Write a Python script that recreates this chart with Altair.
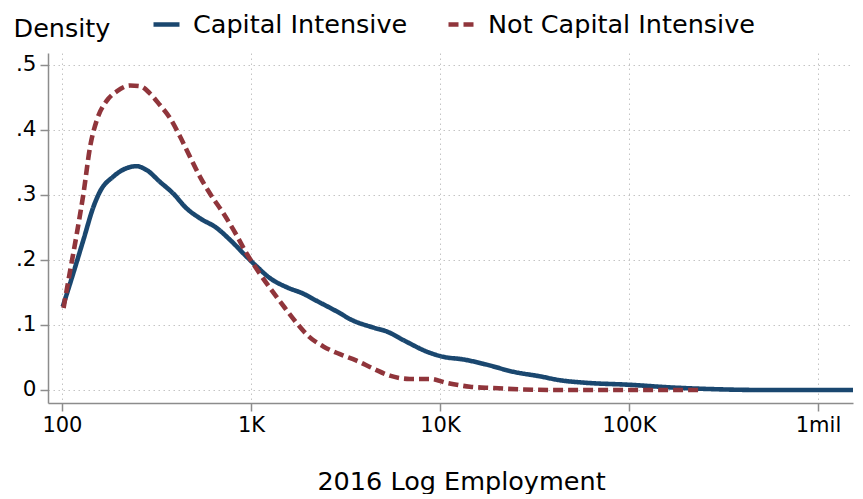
import altair as alt
import pandas as pd

series_names = ["Capital Intensive", "Not Capital Intensive"]

cap_emp = [101, 115, 130, 147, 159, 187, 220, 248, 281, 330, 388, 457, 537, 659, 774, 948,
           1072, 1259, 1545, 1892, 2228, 2958, 3342, 4436, 5224, 6668, 8510, 10400, 13280,
           17650, 24430, 33800, 43150, 59700, 101000, 164800, 303000, 493000, 1667000]
cap_den = [0.128, 0.18, 0.231, 0.282, 0.305, 0.328, 0.341, 0.344, 0.338, 0.320, 0.302, 0.279,
           0.264, 0.249, 0.231, 0.205, 0.19, 0.172, 0.158, 0.148, 0.137, 0.118, 0.109, 0.096,
           0.090, 0.074, 0.059, 0.051, 0.047, 0.039, 0.028, 0.021, 0.015, 0.011, 0.008, 0.004,
           0.001, 0.0, 0.0]

not_emp = [102, 110, 120, 130, 141, 153, 172, 195, 229, 259, 292, 330, 373, 421, 475, 537,
           607, 713, 839, 948, 1072, 1312, 1514, 1746, 2011, 2414, 2958, 3623, 4436, 5432,
           6934, 8851, 10840, 14420, 19150, 26500, 43150, 237700]
not_den = [0.126, 0.18, 0.241, 0.302, 0.374, 0.415, 0.444, 0.459, 0.468, 0.467, 0.456, 0.438,
           0.418, 0.39, 0.359, 0.328, 0.302, 0.272, 0.238, 0.21, 0.186, 0.15, 0.126, 0.103,
           0.083, 0.067, 0.055, 0.045, 0.033, 0.022, 0.017, 0.017, 0.011, 0.005, 0.003, 0.001,
           0.0, 0.0]

x_ticks = [100, 1000, 10000, 100000, 1000000]
x_tick_labels = ["100", "1K", "10K", "100K", "1mil"]
y_ticks = [0, 0.1, 0.2, 0.3, 0.4, 0.5]

df = pd.concat([
    pd.DataFrame({"emp": cap_emp, "density": cap_den, "series": series_names[0], "order": range(len(cap_emp))}),
    pd.DataFrame({"emp": not_emp, "density": not_den, "series": series_names[1], "order": range(len(not_emp))}),
])

label_expr = " : ".join(
    f"datum.value == {v} ? '{l}'" for v, l in zip(x_ticks, x_tick_labels)
) + " : ''"

FONT = "DejaVu Sans"

legend_kw = dict(title=None, orient="none", legendX=103, legendY=-44,
                 direction="horizontal", labelFontSize=25.5, labelFont=FONT, labelLimit=0,
                 symbolType="stroke", symbolSize=676, symbolStrokeWidth=4.5,
                 labelOffset=11, columnPadding=31)

chart = alt.Chart(df).mark_line(strokeWidth=4.6, interpolate="monotone", clip=True).encode(
    x=alt.X("emp:Q",
            scale=alt.Scale(type="log", domain=[84.4, 1532000], nice=False, zero=False),
            axis=alt.Axis(values=x_ticks, labelExpr=label_expr, title="2016 Log Employment",
                          titleFontSize=25.5, titleFontWeight="normal", titleY=86,
                          titleBaseline="alphabetic", titleX=413, titleAnchor="middle",
                          labelPadding=3, labelFontSize=21)),
    y=alt.Y("density:Q",
            scale=alt.Scale(domain=[-0.02, 0.518], nice=False, zero=False),
            axis=alt.Axis(values=y_ticks,
                          labelExpr="datum.value == 0 ? '0' : replace(format(datum.value, '.1f'), '0.', '.')",
                          title="Density", titleAngle=0, titleAlign="left", titleBaseline="alphabetic",
                          titleX=-35, titleY=-17, titleFontSize=25.5, titleFontWeight="normal",
                          labelPadding=4, labelFontSize=21.5)),
    color=alt.Color("series:N",
                    scale=alt.Scale(domain=series_names, range=["#1a476f", "#90353b"]),
                    legend=alt.Legend(**legend_kw)),
    strokeDash=alt.StrokeDash("series:N",
                              scale=alt.Scale(domain=series_names, range=[[1, 0], [10, 5]]),
                              legend=alt.Legend(**legend_kw)),
    order="order:Q",
).properties(
    width=805, height=350,
    autosize=alt.AutoSizeParams(type="none"),
    padding={"left": 40, "top": 45, "right": 2, "bottom": 91},
).configure_view(stroke=None).configure_axis(
    domainColor="#8c8c8c", domainWidth=1.5, tickColor="#8c8c8c", tickWidth=1.5, tickSize=8,
    gridColor="#c4c4c4", gridDash=[1.5, 3.5], gridWidth=1,
    labelFont=FONT, titleFont=FONT, labelColor="#000", titleColor="#000",
).configure_legend(labelColor="#000")

chart.save("out.html", embed_options={"renderer": "svg", "actions": False})
